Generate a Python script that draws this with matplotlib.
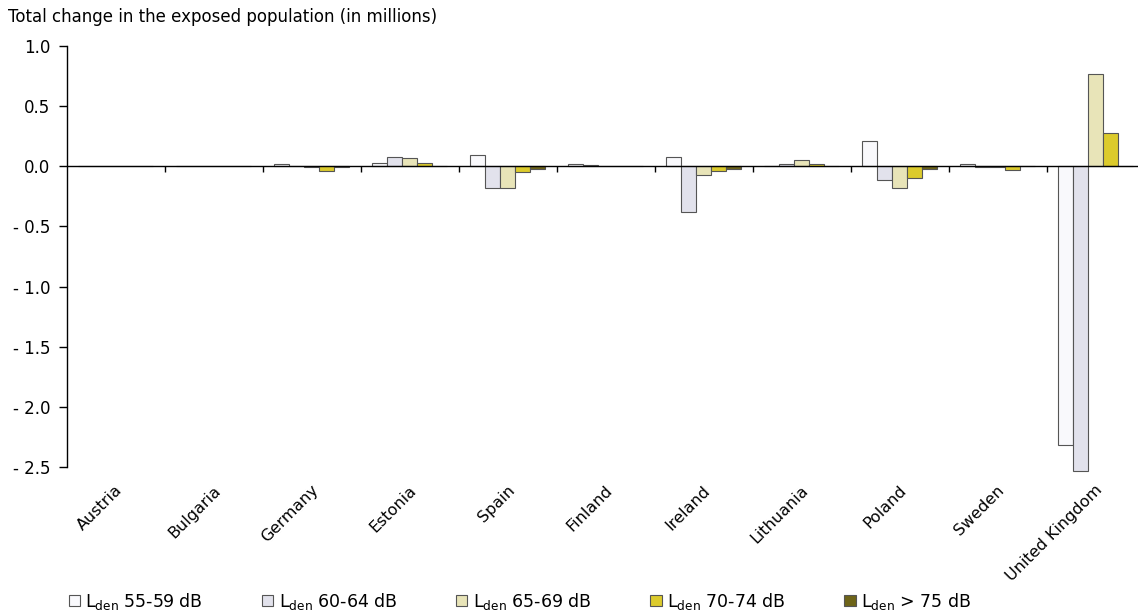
"""
    plot.py
    Change in noise-exposed population per country, by Lden band.
"""

import matplotlib
matplotlib.use("Agg")
import matplotlib.pyplot as plt
import matplotlib.transforms as mtransforms
from matplotlib.patches import Patch
import numpy as np

countries = ["Austria", "Bulgaria", "Germany", "Estonia", "Spain", "Finland",
             "Ireland", "Lithuania", "Poland", "Sweden", "United Kingdom"]

# values in millions
lden_55_59 = [0.0, 0.0, 0.02, 0.03, 0.09, 0.015, 0.075, 0.0, 0.21, 0.015, -2.32]
lden_60_64 = [0.0, 0.0, 0.005, 0.08, -0.18, 0.01, -0.38, 0.02, -0.11, -0.01, -2.53]
lden_65_69 = [0.0, 0.0, -0.01, 0.065, -0.18, 0.003, -0.07, 0.05, -0.18, -0.01, 0.77]
lden_70_74 = [0.0, 0.0, -0.04, 0.025, -0.05, 0.005, -0.04, 0.02, -0.10, -0.03, 0.28]
lden_75_up = [0.0, 0.0, -0.01, 0.0, -0.02, 0.0, -0.02, 0.0, -0.02, 0.0, 0.0]

band_labels = ["55-59 dB", "60-64 dB", "65-69 dB", "70-74 dB", "> 75 dB"]
band_colors = ["#f9f9fc", "#e2e2ec", "#e8e4b8", "#dccb2c", "#6e6418"]

ytick_vals = [1.0, 0.5, 0.0, -0.5, -1.0, -1.5, -2.0, -2.5]
ytick_text = ["1.0", "0.5", "0.0", "- 0.5", "- 1.0", "- 1.5", "- 2.0", "- 2.5"]


def main():
    series = [lden_55_59, lden_60_64, lden_65_69, lden_70_74, lden_75_up]

    fig = plt.figure(figsize=(11.38, 6.15), dpi=100)
    W, H = 1138.0, 615.0
    ax = fig.add_axes([67 / W, 1 - 467 / H, (W - 67) / W, (467 - 46) / H])

    n = len(countries)
    x = np.arange(n)
    bar_w = 0.153
    start = 0.11
    for k, vals in enumerate(series):
        ax.bar(x + start + k * bar_w, vals, width=bar_w, align="edge",
               color=band_colors[k], edgecolor="#555555", linewidth=0.8,
               zorder=2, clip_on=False)

    # zero line with group separators hanging below it
    ax.axhline(0, color="black", linewidth=1.0, zorder=3)
    ax.vlines(np.arange(1, n), -0.05, 0, color="black", linewidth=1.0, zorder=3)

    ax.set_xlim(0, (W - 67) / 98.0)
    ax.set_ylim(-2.5, 1.0)

    for s in ["top", "right", "bottom"]:
        ax.spines[s].set_visible(False)
    ax.spines["left"].set_linewidth(1.0)

    ax.set_yticks(ytick_vals)
    ax.set_yticklabels(ytick_text, fontsize=12)
    ax.tick_params(axis="y", length=6, width=1.0, pad=6)

    ax.set_xticks(x + 0.5)
    ax.set_xticklabels(countries, fontsize=11.5, rotation=45, ha="right",
                       va="center", rotation_mode="anchor")
    ax.tick_params(axis="x", length=0, pad=14)
    offset = mtransforms.ScaledTranslation(3 / 72, -1 / 72, fig.dpi_scale_trans)
    for lab in ax.get_xticklabels():
        lab.set_transform(lab.get_transform() + offset)

    fig.text(8 / W, 1 - 17 / H, "Total change in the exposed population (in millions)",
             fontsize=12, va="center", ha="left")

    handles = [Patch(facecolor=c, edgecolor="#555555", linewidth=0.8)
               for c in band_colors]
    labels = [r"L$_{\mathrm{den}}$ " + b for b in band_labels]
    fig.legend(handles, labels, loc="center left", ncol=5,
               bbox_to_anchor=(62 / W, 1 - 601 / H), frameon=False,
               fontsize=12.5, handlelength=0.65, handleheight=0.65,
               handletextpad=0.3, columnspacing=3.4, borderaxespad=0)

    fig.savefig("out.png", dpi=100)


if __name__ == "__main__":
    main()
